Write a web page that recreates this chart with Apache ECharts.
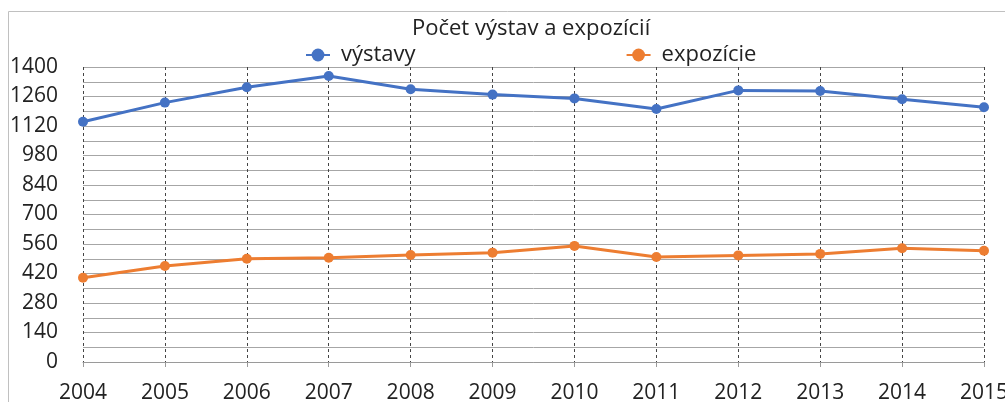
<!DOCTYPE html>
<html>
<head>
<meta charset="utf-8">
<script src="https://cdn.jsdelivr.net/npm/echarts@6/dist/echarts.min.js"></script>
<style>
  html, body { margin: 0; padding: 0; background: #fff; }
  #chart { width: 1005px; height: 402px; }
</style>
</head>
<body>
<div id="chart"></div>
<script>
const years = ['2004', '2005', '2006', '2007', '2008', '2009', '2010', '2011', '2012', '2013', '2014', '2015']
const vystavy = [1140, 1231, 1304, 1357, 1294, 1269, 1251, 1201, 1289, 1286, 1247, 1209]
const expozicie = [400, 456, 490, 495, 508, 519, 551, 498, 506, 513, 540, 528]

const font = 'Open Sans'
const myChart = echarts.init(document.getElementById('chart'))

const option = {
  animation: false,
  textStyle: { fontFamily: font },
  title: {
    text: 'Počet výstav a expozícií',
    left: 407,
    top: 13,
    textStyle: { fontFamily: font, fontSize: 22, fontWeight: 'normal', color: '#222' }
  },
  legend: {
    data: ['výstavy', 'expozície'],
    top: 39,
    left: 300,
    itemGap: 210,
    itemWidth: 24,
    itemHeight: 16,
    textStyle: { fontFamily: font, fontSize: 22, color: '#222', padding: [0, 0, 0, 6] }
  },
  graphic: [
    {
      type: 'rect',
      shape: { x: 8.5, y: 11.5, width: 1100, height: 500 },
      style: { fill: 'none', stroke: '#c0c0c0', lineWidth: 1 },
      silent: true
    }
  ],
  grid: { left: 83, right: 21, top: 67, bottom: 40, containLabel: false, outerBoundsMode: 'none' },
  xAxis: {
    type: 'category',
    data: years,
    boundaryGap: false,
    axisLine: { lineStyle: { color: '#9a9a9a' } },
    axisTick: { show: true, alignWithLabel: true, lineStyle: { color: '#9a9a9a' } },
    axisLabel: { fontSize: 21, color: '#222', margin: 21, interval: 0 },
    splitLine: { show: true, lineStyle: { color: '#444', type: [3, 3], width: 1 } }
  },
  yAxis: {
    type: 'value',
    min: 0,
    max: 1400,
    interval: 70,
    axisLine: { show: false },
    axisTick: { show: false },
    axisLabel: {
      fontSize: 21,
      color: '#222',
      margin: 25,
      formatter: function (v) { return v % 140 === 0 ? String(v) : '' }
    },
    splitLine: { show: true, lineStyle: { color: '#a6a6a6', width: 1 } }
  },
  series: [
    {
      name: 'výstavy',
      type: 'line',
      data: vystavy,
      symbol: 'circle',
      symbolSize: 10,
      itemStyle: { color: '#4472c4' },
      lineStyle: { width: 3, color: '#4472c4' }
    },
    {
      name: 'expozície',
      type: 'line',
      data: expozicie,
      symbol: 'circle',
      symbolSize: 10,
      itemStyle: { color: '#ed7d31' },
      lineStyle: { width: 3, color: '#ed7d31' }
    }
  ]
}

myChart.setOption(option)
</script>
</body>
</html>
